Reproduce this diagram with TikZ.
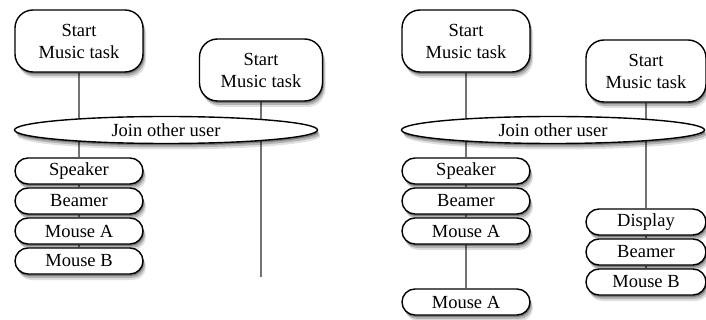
\documentclass[tikz,border=0pt]{standalone}
\usepackage{fontspec}
\setmainfont{Liberation Serif}
\usetikzlibrary{shapes.geometric,shadows,backgrounds}

\begin{document}
\begin{tikzpicture}[x=1pt,y=-1pt,
    every node/.style={draw,fill=white,line width=1.4pt,font=\fontsize{18.5}{22}\selectfont},
    shade/.style={drop shadow={fill=black,opacity=0.12,shadow xshift=3pt,shadow yshift=-6pt},
      drop shadow={fill=black,opacity=0.2,shadow xshift=2pt,shadow yshift=-4pt},
      drop shadow={fill=black,opacity=0.3,shadow xshift=1pt,shadow yshift=-2pt}},
    startbox/.style={shade,minimum height=62pt,rounded corners=18pt,align=center,inner sep=0},
    joinbox/.style={shade,ellipse,minimum width=303pt,minimum height=27pt,inner sep=0},
    devbox/.style={shade,minimum height=26pt,rounded corners=13pt,inner sep=0},
    link/.style={draw=black!55,line width=1.6pt}]
  \useasboundingbox (0,0) rectangle (706,320);
  % left panel
  \node[startbox,minimum width=128pt] (ls1) at (79,41) {Start\\Music task};
  \node[startbox,minimum width=123pt] (ls2) at (261,70) {Start\\Music task};
  \node[joinbox] (ljoin) at (166,130) {Join other user};
  \node[devbox,minimum width=128pt] (lspk) at (79,171) {Speaker};
  \node[devbox,minimum width=128pt] (lbeam) at (79,201) {Beamer};
  \node[devbox,minimum width=128pt] (lmsa) at (79,231) {Mouse A};
  \node[devbox,minimum width=128pt] (lmsb) at (79,261) {Mouse B};
  \coordinate (lend) at (261,277);
  % right panel
  \node[startbox,minimum width=128pt] (rs1) at (466,41) {Start\\Music task};
  \node[startbox,minimum width=120pt] (rs2) at (646,71) {Start\\Music task};
  \node[joinbox] (rjoin) at (553,130) {Join other user};
  \node[devbox,minimum width=128pt] (rspk) at (466,171) {Speaker};
  \node[devbox,minimum width=128pt] (rbeam) at (466,201) {Beamer};
  \node[devbox,minimum width=128pt] (rmsa) at (466,231) {Mouse A};
  \node[devbox,minimum width=128pt] (rmsa2) at (466,302) {Mouse A};
  \node[devbox,minimum width=120pt] (rdisp) at (646,222) {Display};
  \node[devbox,minimum width=120pt] (rbeam2) at (646,252) {Beamer};
  \node[devbox,minimum width=120pt] (rmsb) at (646,282) {Mouse B};
  \begin{scope}[on background layer]
    \draw[link] (ls1) -- (lspk) (lspk) -- (lbeam) (lbeam) -- (lmsa) (lmsa) -- (lmsb);
    \draw[link] (ls2) -- (lend);
    \draw[link] (rs1) -- (rspk) (rspk) -- (rbeam) (rbeam) -- (rmsa) (rmsa) -- (rmsa2);
    \draw[link] (rs2) -- (rdisp) (rdisp) -- (rbeam2) (rbeam2) -- (rmsb);
  \end{scope}
\end{tikzpicture}
\end{document}
